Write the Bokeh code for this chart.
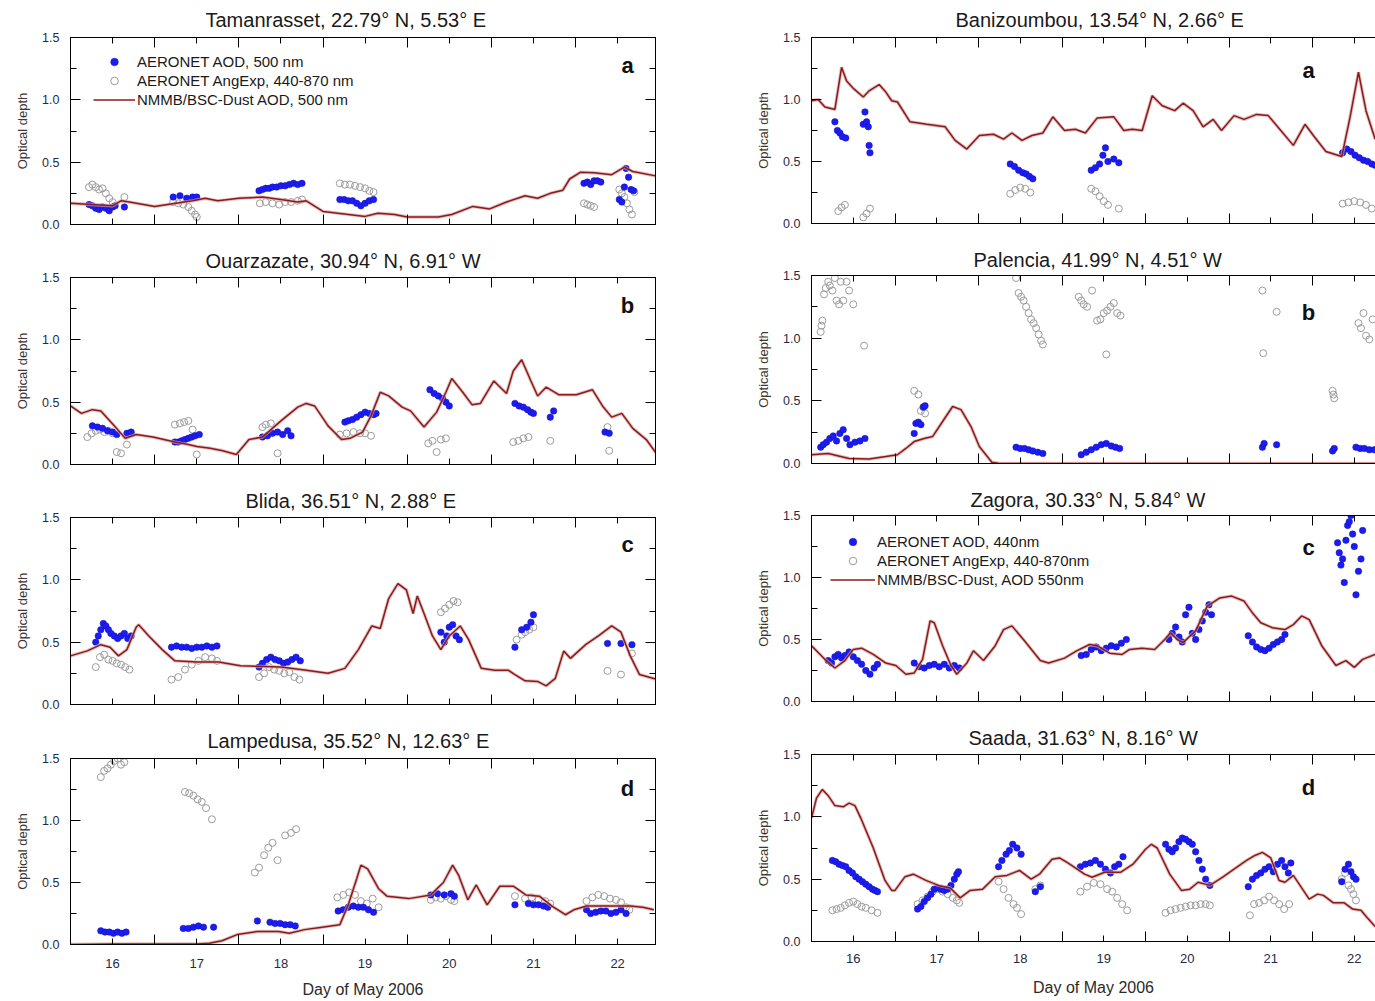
from bokeh.plotting import figure
from bokeh.models import (LinearAxis, FixedTicker, Range1d, Legend, LegendItem,
                          Label, Title, PrintfTickFormatter, CustomJSTickFormatter)
from bokeh.layouts import row, column
from bokeh.embed import file_html
from bokeh.resources import INLINE

# ---------------- tick values ----------------
day_labels = [16, 17, 18, 19, 20, 21, 22]
day_bounds = [15.5, 16.5, 17.5, 18.5, 19.5, 20.5, 21.5, 22.5]
aod_ticks = [0.0, 0.5, 1.0, 1.5]
aod_minor = [0.25, 0.75, 1.25]

# ---------------- Tamanrasset ----------------
tam_model_day = [15.5, 16.0, 16.1, 16.2, 16.5, 16.75, 16.95, 17.1, 17.25, 17.5,
                 17.78, 18.0, 18.2, 18.3, 18.5, 18.75, 19.0, 19.15, 19.35, 19.5,
                 19.87, 20.03, 20.28, 20.48, 20.68, 20.9, 21.05, 21.2, 21.35, 21.43,
                 21.56, 21.72, 21.93, 22.08, 22.18, 22.45]
tam_model_aod = [0.17, 0.15, 0.19, 0.18, 0.145, 0.17, 0.19, 0.21, 0.19, 0.21,
                 0.22, 0.2, 0.18, 0.19, 0.105, 0.085, 0.065, 0.09, 0.08, 0.06,
                 0.06, 0.08, 0.145, 0.125, 0.18, 0.23, 0.21, 0.25, 0.275, 0.365,
                 0.42, 0.415, 0.40, 0.46, 0.425, 0.39]
tam_aod_day = [15.72, 15.76, 15.80, 15.84, 15.88, 15.92, 15.96, 16.00, 16.03, 16.14,
               16.72, 16.80, 16.88, 16.95, 17.00,
               17.74, 17.78, 17.82, 17.86, 17.90, 17.95, 18.00, 18.05, 18.10, 18.15, 18.20, 18.25,
               18.70, 18.75, 18.80, 18.85, 18.90, 18.95, 19.00, 19.05, 19.10,
               21.60, 21.64, 21.68, 21.72, 21.76, 21.80,
               22.02, 22.05, 22.08, 22.10, 22.13, 22.16, 22.19]
tam_aod = [0.16, 0.15, 0.13, 0.12, 0.14, 0.13, 0.11, 0.14, 0.15, 0.14,
           0.22, 0.23, 0.21, 0.22, 0.22,
           0.27, 0.28, 0.29, 0.29, 0.30, 0.30, 0.31, 0.31, 0.32, 0.33, 0.32, 0.33,
           0.20, 0.20, 0.19, 0.19, 0.17, 0.15, 0.17, 0.19, 0.20,
           0.33, 0.34, 0.32, 0.35, 0.35, 0.34,
           0.20, 0.18, 0.30, 0.45, 0.38, 0.28, 0.27]
tam_ang_day = [15.72, 15.76, 15.80, 15.84, 15.88, 15.92, 15.96, 16.00, 16.14,
               16.72, 16.78, 16.84, 16.90, 16.94, 16.98, 17.00,
               17.75, 17.82, 17.90, 17.98, 18.05, 18.12, 18.20, 18.25,
               18.70, 18.76, 18.82, 18.88, 18.94, 19.00, 19.05, 19.10,
               21.60, 21.64, 21.68, 21.72,
               22.02, 22.05, 22.08, 22.11, 22.14, 22.17, 22.20]
tam_ang = [0.30, 0.32, 0.30, 0.28, 0.29, 0.25, 0.21, 0.18, 0.22,
           0.18, 0.17, 0.16, 0.14, 0.11, 0.08, 0.06,
           0.17, 0.18, 0.17, 0.16, 0.18, 0.18, 0.19, 0.20,
           0.33, 0.32, 0.32, 0.31, 0.30, 0.29, 0.27, 0.26,
           0.17, 0.16, 0.15, 0.14,
           0.28, 0.25, 0.22, 0.17, 0.12, 0.08, 0.26]

# ---------------- Ouarzazate ----------------
oua_model_day = [15.5, 15.63, 15.76, 15.86, 16.02, 16.15, 16.28, 16.48, 16.74, 16.9,
                 17.0, 17.16, 17.31, 17.47, 17.62, 17.78, 18.0, 18.2, 18.3, 18.4,
                 18.56, 18.72, 18.82, 18.97, 19.07, 19.18, 19.28, 19.44, 19.54, 19.7,
                 19.85, 19.96, 20.03, 20.16, 20.27, 20.37, 20.53, 20.68, 20.76, 20.86,
                 20.97, 21.05, 21.15, 21.3, 21.51, 21.7, 21.82, 21.93, 22.05, 22.18,
                 22.34, 22.47]
oua_model_aod = [0.47, 0.41, 0.44, 0.43, 0.31, 0.21, 0.24, 0.22, 0.18, 0.16,
                 0.145, 0.13, 0.11, 0.08, 0.2, 0.22, 0.35, 0.46, 0.49, 0.47,
                 0.31, 0.2, 0.21, 0.26, 0.39, 0.58, 0.55, 0.46, 0.43, 0.3,
                 0.42, 0.58, 0.69, 0.58, 0.48, 0.49, 0.67, 0.57, 0.75, 0.84,
                 0.67, 0.55, 0.62, 0.56, 0.56, 0.6, 0.47, 0.38, 0.41, 0.29,
                 0.2, 0.08]
oua_aod_day = [15.76, 15.82, 15.88, 15.94, 16.00, 16.05, 16.17, 16.22,
               16.74, 16.78, 16.82, 16.86, 16.90, 16.94, 16.98, 17.03,
               17.78, 17.84, 17.90, 17.96, 18.02, 18.08, 18.12,
               18.76, 18.80, 18.85, 18.90, 18.95, 19.00, 19.05, 19.10, 19.13,
               19.77, 19.82, 19.87, 19.92, 19.96, 20.00,
               20.78, 20.83, 20.88, 20.93, 20.97, 21.00,
               21.20, 21.24,
               21.85, 21.90]
oua_aod = [0.31, 0.30, 0.29, 0.27, 0.26, 0.24, 0.25, 0.26,
           0.18, 0.18, 0.19, 0.20, 0.21, 0.22, 0.23, 0.24,
           0.22, 0.23, 0.25, 0.26, 0.24, 0.27, 0.23,
           0.34, 0.35, 0.36, 0.38, 0.40, 0.42, 0.41, 0.40, 0.41,
           0.60, 0.57, 0.55, 0.53, 0.50, 0.47,
           0.49, 0.47, 0.46, 0.44, 0.42, 0.41,
           0.38, 0.43,
           0.26, 0.25]
oua_ang_day = [15.70, 15.75, 15.80, 15.85, 15.90, 15.95, 16.00, 16.05, 16.10, 16.17, 16.22,
               16.74, 16.80, 16.85, 16.90, 16.95, 17.00,
               17.78, 17.82, 17.88, 17.96,
               18.70, 18.78, 18.86, 18.94, 19.00, 19.07,
               19.75, 19.80, 19.85, 19.90, 19.96,
               20.76, 20.82, 20.88, 20.94,
               21.20,
               21.88, 21.90]
oua_ang = [0.22, 0.25, 0.27, 0.28, 0.26, 0.27, 0.25, 0.10, 0.09, 0.16, 0.25,
           0.32, 0.33, 0.34, 0.35, 0.28, 0.08,
           0.30, 0.32, 0.33, 0.09,
           0.24, 0.25, 0.26, 0.25, 0.25, 0.23,
           0.17, 0.19, 0.10, 0.20, 0.21,
           0.18, 0.19, 0.21, 0.22,
           0.19,
           0.30, 0.11]

# ---------------- Blida ----------------
bli_model_day = [15.5, 15.7, 15.86, 15.97, 16.07, 16.17, 16.28, 16.31, 16.43, 16.59,
                 16.74, 17.0, 17.26, 17.52, 18.0, 18.3, 18.56, 18.76, 18.92, 19.08,
                 19.18, 19.28, 19.39, 19.49, 19.57, 19.62, 19.7, 19.8, 19.9, 20.0,
                 20.13, 20.23, 20.38, 20.54, 20.7, 20.78, 20.9, 21.05, 21.15, 21.26,
                 21.36, 21.44, 21.62, 21.78, 21.93, 22.04, 22.15, 22.26, 22.42, 22.47]
bli_model_aod = [0.39, 0.43, 0.48, 0.46, 0.39, 0.44, 0.62, 0.64, 0.55, 0.44,
                 0.35, 0.34, 0.34, 0.31, 0.3, 0.275, 0.25, 0.29, 0.44, 0.63,
                 0.61, 0.85, 0.97, 0.92, 0.73, 0.87, 0.73, 0.55, 0.44, 0.55,
                 0.63, 0.52, 0.29, 0.275, 0.275, 0.24, 0.19, 0.185, 0.15, 0.21,
                 0.43, 0.37, 0.48, 0.555, 0.63, 0.58, 0.39, 0.24, 0.21, 0.2]
bli_aod_day = [15.80, 15.83, 15.86, 15.89, 15.92, 15.95, 15.98, 16.02, 16.06, 16.10, 16.14, 16.18, 16.22,
               16.70, 16.76, 16.82, 16.88, 16.94, 17.00, 17.06, 17.12, 17.18, 17.24,
               17.74, 17.78, 17.83, 17.88, 17.93, 17.98, 18.03, 18.08, 18.13, 18.18, 18.23,
               19.90, 19.94, 19.97, 20.00, 20.04, 20.08, 20.12,
               20.78, 20.86, 20.92, 20.97, 21.00,
               21.88, 22.04, 22.17]
bli_aod = [0.50, 0.55, 0.60, 0.65, 0.63, 0.60, 0.57, 0.55, 0.53, 0.55, 0.57, 0.53, 0.55,
           0.46, 0.47, 0.46, 0.46, 0.45, 0.46, 0.46, 0.47, 0.46, 0.47,
           0.30, 0.33, 0.36, 0.38, 0.36, 0.35, 0.33, 0.34, 0.36, 0.38, 0.35,
           0.58, 0.50, 0.55, 0.62, 0.64, 0.55, 0.52,
           0.46, 0.60, 0.62, 0.66, 0.72,
           0.49, 0.49, 0.48]
bli_ang_day = [15.80, 15.85, 15.90, 15.95, 16.00, 16.05, 16.10, 16.15, 16.20,
               16.70, 16.78, 16.86, 16.94, 17.02, 17.10, 17.18, 17.24,
               17.74, 17.80, 17.86, 17.92, 17.98, 18.04, 18.10, 18.16, 18.22,
               19.90, 19.95, 20.00, 20.05, 20.10,
               20.80, 20.86, 20.90, 20.95, 21.00,
               21.88, 22.04, 22.17]
bli_ang = [0.30, 0.38, 0.40, 0.36, 0.35, 0.33, 0.32, 0.30, 0.28,
           0.20, 0.22, 0.28, 0.32, 0.35, 0.38, 0.37, 0.35,
           0.22, 0.25, 0.30, 0.28, 0.27, 0.25, 0.26, 0.22, 0.20,
           0.74, 0.77, 0.80, 0.83, 0.82,
           0.52, 0.56, 0.58, 0.60, 0.62,
           0.27, 0.24, 0.41]

# ---------------- Lampedusa ----------------
lam_model_day = [15.5, 16.0, 16.48, 17.0, 17.15, 17.3, 17.48, 17.72, 17.97, 18.1,
                 18.28, 18.49, 18.7, 18.8, 18.9, 18.95, 19.03, 19.16, 19.26, 19.52,
                 19.78, 19.93, 20.04, 20.11, 20.22, 20.32, 20.45, 20.6, 20.76, 20.91,
                 21.07, 21.22, 21.38, 21.48, 21.63, 21.89, 22.15, 22.3, 22.43]
lam_model_aod = [0.0, 0.005, 0.005, 0.005, 0.01, 0.03, 0.08, 0.105, 0.105, 0.09,
                 0.12, 0.14, 0.16, 0.32, 0.53, 0.64, 0.61, 0.45, 0.39, 0.37,
                 0.4, 0.5, 0.64, 0.56, 0.36, 0.48, 0.32, 0.47, 0.47, 0.4,
                 0.39, 0.31, 0.24, 0.28, 0.31, 0.31, 0.31, 0.3, 0.28]
lam_aod_day = [15.86, 15.91, 15.96, 16.01, 16.06, 16.11, 16.16,
               16.84, 16.90, 16.96, 17.02, 17.08, 17.20,
               17.72, 17.87, 17.93, 17.99, 18.05, 18.11, 18.17,
               18.68, 18.74, 18.80, 18.86, 18.92, 18.98, 19.04, 19.10,
               19.78, 19.86, 19.94, 20.02, 20.06,
               20.78, 20.94, 21.00, 21.06, 21.12, 21.17,
               21.63, 21.68, 21.74, 21.80, 21.86, 21.92, 21.98, 22.04, 22.10]
lam_aod = [0.11, 0.10, 0.10, 0.09, 0.10, 0.09, 0.10,
           0.13, 0.13, 0.14, 0.15, 0.14, 0.14,
           0.19, 0.18, 0.17, 0.17, 0.16, 0.16, 0.15,
           0.27, 0.28, 0.30, 0.31, 0.30, 0.30, 0.28, 0.26,
           0.40, 0.41, 0.40, 0.41, 0.39,
           0.32, 0.33, 0.32, 0.32, 0.31, 0.30,
           0.28, 0.25, 0.26, 0.27, 0.27, 0.25, 0.26, 0.28, 0.25]
lam_ang_day = [15.86, 15.90, 15.94, 15.98, 16.02, 16.06, 16.10, 16.14,
               16.86, 16.91, 16.96, 17.01, 17.06, 17.11, 17.18,
               17.69, 17.74, 17.80, 17.85, 17.90, 17.96, 18.05, 18.12, 18.18,
               18.67, 18.74, 18.81, 18.88, 18.95, 19.02, 19.09, 19.16,
               19.78, 19.84, 19.90, 19.96, 20.02, 20.06,
               20.78, 20.90, 20.98, 21.06, 21.14, 21.20,
               21.63, 21.70, 21.77, 21.84, 21.91, 21.98, 22.04, 22.10, 22.14]
lam_ang = [1.35, 1.40, 1.42, 1.45, 1.48, 1.50, 1.45, 1.47,
           1.23, 1.22, 1.20, 1.17, 1.15, 1.10, 1.01,
           0.58, 0.62, 0.72, 0.78, 0.82, 0.68, 0.88, 0.90, 0.93,
           0.38, 0.40, 0.42, 0.40, 0.35, 0.33, 0.37, 0.30,
           0.36, 0.38, 0.37, 0.39, 0.36, 0.35,
           0.39, 0.37, 0.38, 0.36, 0.35, 0.33,
           0.35, 0.38, 0.40, 0.39, 0.37, 0.36, 0.34, 0.30, 0.28]

# ---------------- Banizoumbou ----------------
ban_model_day = [15.5, 15.58, 15.66, 15.78, 15.86, 15.92, 16.0, 16.12, 16.19, 16.31,
                 16.39, 16.46, 16.53, 16.68, 16.88, 17.1, 17.22, 17.36, 17.51, 17.68,
                 17.8, 17.9, 18.02, 18.14, 18.27, 18.39, 18.53, 18.66, 18.78, 18.92,
                 19.12, 19.24, 19.34, 19.46, 19.58, 19.7, 19.85, 19.95, 20.07, 20.19,
                 20.31, 20.41, 20.56, 20.68, 20.83, 20.97, 21.12, 21.27, 21.41, 21.51,
                 21.66, 21.85, 21.95, 22.05, 22.14, 22.25]
ban_model_aod = [0.99, 1.0, 0.94, 0.92, 1.26, 1.15, 1.09, 1.02, 1.07, 1.12,
                 1.06, 0.99, 0.98, 0.82, 0.8, 0.78, 0.67, 0.6, 0.71, 0.72,
                 0.68, 0.73, 0.67, 0.71, 0.73, 0.86, 0.75, 0.76, 0.73, 0.85,
                 0.86, 0.75, 0.76, 0.75, 1.03, 0.95, 0.91, 0.97, 0.91, 0.78,
                 0.84, 0.75, 0.87, 0.84, 0.88, 0.87, 0.75, 0.63, 0.8, 0.71,
                 0.58, 0.54, 0.86, 1.22, 0.91, 0.68]
ban_aod_day = [15.78, 15.81, 15.84, 15.87, 15.91,
               16.12, 16.14, 16.16, 16.18, 16.19, 16.20,
               17.88, 17.93, 17.98, 18.03, 18.07, 18.11, 18.15,
               18.85, 18.90, 18.95, 18.99, 19.02, 19.05, 19.12, 19.18,
               21.86, 21.91, 21.96, 22.01, 22.06, 22.11, 22.16, 22.21, 22.25]
ban_aod = [0.82, 0.75, 0.73, 0.70, 0.69,
           0.80, 0.90, 0.82, 0.78, 0.63, 0.57,
           0.48, 0.46, 0.43, 0.41, 0.40, 0.38, 0.36,
           0.43, 0.45, 0.48, 0.55, 0.61, 0.50, 0.52, 0.49,
           0.57, 0.60, 0.58, 0.55, 0.53, 0.51, 0.50, 0.48, 0.47]
ban_ang_day = [15.82, 15.86, 15.90,
               16.12, 16.16, 16.20,
               17.88, 17.94, 18.00, 18.06, 18.12,
               18.85, 18.90, 18.95, 19.00, 19.05, 19.18,
               21.86, 21.93, 22.00, 22.07, 22.14, 22.21]
ban_ang = [0.10, 0.13, 0.15,
           0.05, 0.08, 0.12,
           0.24, 0.27, 0.29, 0.28, 0.25,
           0.28, 0.26, 0.22, 0.18, 0.15, 0.12,
           0.16, 0.17, 0.18, 0.17, 0.15, 0.12]

# ---------------- Palencia ----------------
pal_model_day = [15.5, 15.7, 15.95, 16.19, 16.39, 16.53, 16.63, 16.73, 16.85, 16.95,
                 17.07, 17.19, 17.29, 17.41, 17.51, 17.66, 17.75, 22.25]
pal_model_aod = [0.07, 0.08, 0.04, 0.035, 0.055, 0.07, 0.12, 0.175, 0.2, 0.215,
                 0.335, 0.455, 0.43, 0.295, 0.135, 0.01, 0.0, 0.0]
pal_aod_day = [15.61, 15.64, 15.68, 15.72, 15.76, 15.80, 15.84, 15.88, 15.92, 15.96, 16.02, 16.08, 16.14,
               16.73, 16.75, 16.78, 16.81, 16.84, 16.86,
               17.95, 18.00, 18.05, 18.10, 18.15, 18.21, 18.27,
               18.73, 18.79, 18.85, 18.91, 18.97, 19.03, 19.09, 19.14, 19.19,
               20.90, 20.92, 21.07,
               21.74, 21.76,
               22.02, 22.07, 22.12, 22.18, 22.24]
pal_aod = [0.13, 0.15, 0.17, 0.20, 0.22, 0.18, 0.24, 0.27, 0.20, 0.15, 0.17, 0.18, 0.20,
           0.24, 0.32, 0.33, 0.31, 0.45, 0.46,
           0.13, 0.12, 0.12, 0.11, 0.10, 0.09, 0.08,
           0.07, 0.09, 0.11, 0.13, 0.15, 0.16, 0.14, 0.13, 0.12,
           0.13, 0.16, 0.15,
           0.10, 0.12,
           0.13, 0.12, 0.12, 0.11, 0.11]
pal_ang_day = [15.61, 15.62, 15.63, 15.65, 15.67, 15.70, 15.72, 15.75, 15.78, 15.80, 15.83, 15.85,
               15.88, 15.92, 15.95, 16.00, 16.13,
               16.73, 16.78, 16.81, 16.84, 16.86,
               17.95, 17.98, 18.01, 18.04, 18.07, 18.10, 18.13, 18.16, 18.19, 18.22, 18.25, 18.27,
               18.70, 18.73, 18.76, 18.80, 18.86, 18.92, 18.96, 19.00, 19.04, 19.08, 19.12, 19.16,
               19.20, 19.03,
               20.90, 20.91, 21.07,
               21.74, 21.75, 21.76,
               22.05, 22.08, 22.11, 22.14, 22.18, 22.22]
pal_ang = [1.05, 1.10, 1.14, 1.35, 1.40, 1.45, 1.42, 1.38, 1.48, 1.30, 1.27, 1.45,
           1.30, 1.45, 1.38, 1.27, 0.94,
           0.58, 0.55, 0.42, 0.45, 0.40,
           1.48, 1.36, 1.33, 1.30, 1.25, 1.20, 1.15, 1.12, 1.08, 1.03, 0.98, 0.95,
           1.33, 1.30, 1.27, 1.25, 1.38, 1.14, 1.15, 1.20, 1.22, 1.25, 1.28, 1.20,
           1.18, 0.87,
           1.38, 0.88, 1.21,
           0.58, 0.55, 0.52,
           1.12, 1.08, 1.20, 1.02, 0.99, 1.15]

# ---------------- Zagora ----------------
zag_model_day = [15.5, 15.66, 15.78, 15.9, 16.0, 16.1, 16.24, 16.39, 16.51, 16.63,
                 16.73, 16.83, 16.92, 16.97, 17.07, 17.17, 17.24, 17.36, 17.44, 17.56,
                 17.7, 17.8, 17.9, 18.05, 18.24, 18.34, 18.53, 18.68, 18.83, 18.92,
                 19.07, 19.22, 19.31, 19.46, 19.61, 19.73, 19.8, 19.88, 19.95, 20.1,
                 20.24, 20.39, 20.53, 20.68, 20.78, 20.88, 21.02, 21.17, 21.27, 21.37,
                 21.46, 21.61, 21.78, 21.9, 22.0, 22.1, 22.25]
zag_model_aod = [0.45, 0.34, 0.27, 0.33, 0.42, 0.43, 0.38, 0.31, 0.29, 0.22,
                 0.23, 0.34, 0.65, 0.635, 0.45, 0.29, 0.22, 0.31, 0.41, 0.33,
                 0.45, 0.58, 0.61, 0.49, 0.33, 0.31, 0.35, 0.41, 0.46, 0.45,
                 0.39, 0.38, 0.42, 0.43, 0.42, 0.5, 0.555, 0.5, 0.475, 0.57,
                 0.77, 0.835, 0.85, 0.81, 0.715, 0.635, 0.595, 0.58, 0.62, 0.69,
                 0.66, 0.45, 0.29, 0.33, 0.275, 0.34, 0.38]
zag_aod_day = [15.70, 15.74, 15.78, 15.82, 15.86, 15.90, 15.95, 16.00, 16.05, 16.10, 16.15, 16.20, 16.25, 16.29,
               16.73, 16.79, 16.85, 16.91, 16.97, 17.03, 17.09, 17.15, 17.21, 17.27,
               18.73, 18.79, 18.85, 18.91, 18.97, 19.03, 19.09, 19.15, 19.21, 19.27,
               19.78, 19.82, 19.86, 19.90, 19.94, 19.98, 20.02, 20.06, 20.10, 20.14, 20.18, 20.22, 20.26, 20.29,
               20.73, 20.78, 20.83, 20.88, 20.93, 20.98, 21.03, 21.08, 21.13, 21.17,
               21.80, 21.82, 21.84, 21.86, 21.88, 21.90, 21.92, 21.94, 21.96, 21.98, 22.00, 22.02, 22.05, 22.08, 22.10]
zag_aod = [0.33, 0.31, 0.36, 0.38, 0.35, 0.37, 0.40, 0.36, 0.33, 0.30, 0.25, 0.22, 0.27, 0.30,
           0.31, 0.28, 0.27, 0.29, 0.30, 0.28, 0.30, 0.27, 0.29, 0.27,
           0.37, 0.38, 0.42, 0.44, 0.41, 0.43, 0.45, 0.44, 0.47, 0.50,
           0.50, 0.55, 0.60, 0.52, 0.48, 0.70, 0.76, 0.55, 0.50, 0.58, 0.65, 0.72, 0.78, 0.70,
           0.53, 0.48, 0.44, 0.42, 0.41, 0.43, 0.46, 0.48, 0.50, 0.54,
           1.28, 1.20, 1.10, 1.15, 0.96, 1.30, 1.42, 1.45, 1.50, 1.35, 1.25, 0.86, 1.05, 1.15, 1.38]
zag_ang_day = []
zag_ang = []

# ---------------- Saada ----------------
saa_model_day = [15.5, 15.56, 15.63, 15.7, 15.78, 15.88, 15.95, 16.02, 16.09, 16.24,
                 16.38, 16.46, 16.5, 16.62, 16.72, 16.87, 17.02, 17.16, 17.28, 17.4,
                 17.55, 17.7, 17.84, 17.99, 18.13, 18.23, 18.38, 18.47, 18.57, 18.77,
                 18.86, 19.01, 19.2, 19.35, 19.5, 19.57, 19.64, 19.79, 19.93, 20.03,
                 20.13, 20.27, 20.42, 20.56, 20.71, 20.81, 20.9, 21.0, 21.1, 21.17,
                 21.27, 21.39, 21.46, 21.56, 21.63, 21.75, 21.88, 21.98, 22.08, 22.15,
                 22.25]
saa_model_aod = [0.99, 1.15, 1.22, 1.17, 1.09, 1.08, 1.11, 1.09, 0.99, 0.75,
                 0.49, 0.41, 0.41, 0.52, 0.54, 0.49, 0.45, 0.43, 0.35, 0.41,
                 0.42, 0.52, 0.53, 0.57, 0.5, 0.54, 0.66, 0.67, 0.63, 0.54,
                 0.515, 0.555, 0.555, 0.62, 0.74, 0.78, 0.75, 0.54, 0.41, 0.42,
                 0.475, 0.45, 0.515, 0.58, 0.65, 0.69, 0.715, 0.67, 0.49, 0.475,
                 0.53, 0.41, 0.34, 0.38, 0.37, 0.31, 0.31, 0.26, 0.25, 0.195,
                 0.12]
saa_aod_day = [15.75, 15.79, 15.83, 15.87, 15.91, 15.95, 15.99, 16.03, 16.07, 16.11, 16.15, 16.19, 16.23, 16.26, 16.29,
               16.77, 16.81, 16.85, 16.89, 16.93, 16.97, 17.01, 17.05, 17.09, 17.13, 17.17, 17.21, 17.24, 17.26,
               17.74, 17.78, 17.83, 17.87, 17.91, 17.96, 18.01,
               18.18, 18.24,
               18.72, 18.78, 18.84, 18.90, 18.96, 19.02, 19.08, 19.13, 19.18, 19.23,
               19.74, 19.78, 19.82, 19.86, 19.90, 19.94, 19.98, 20.02, 20.06, 20.10, 20.14, 20.18, 20.22, 20.27,
               20.73, 20.78, 20.83, 20.88, 20.93, 20.98, 21.03, 21.08, 21.13, 21.17, 21.21, 21.24,
               21.85, 21.89, 21.93, 21.96, 21.99, 22.02]
saa_aod = [0.65, 0.64, 0.62, 0.61, 0.60, 0.57, 0.55, 0.52, 0.50, 0.48, 0.46, 0.44, 0.42, 0.41, 0.40,
           0.26, 0.28, 0.32, 0.35, 0.38, 0.42, 0.43, 0.42, 0.41, 0.42, 0.45, 0.50, 0.54, 0.56,
           0.60, 0.65, 0.70, 0.73, 0.78, 0.75, 0.70,
           0.40, 0.44,
           0.60, 0.62, 0.63, 0.65, 0.62, 0.58, 0.55, 0.60, 0.62, 0.68,
           0.78, 0.74, 0.72, 0.75, 0.80, 0.83, 0.82, 0.80, 0.78, 0.72, 0.65, 0.58, 0.50, 0.45,
           0.44, 0.50, 0.53, 0.55, 0.58, 0.60, 0.56, 0.62, 0.65, 0.60, 0.55, 0.63,
           0.48, 0.58, 0.62, 0.56, 0.52, 0.50]
saa_ang_day = [15.75, 15.80, 15.85, 15.90, 15.95, 16.00, 16.05, 16.10, 16.15, 16.22, 16.29,
               16.77, 16.83, 16.89, 16.95, 17.01, 17.07, 17.13, 17.19, 17.24, 17.27,
               17.74, 17.80, 17.86, 17.92, 17.96, 18.01,
               18.18, 18.24,
               18.72, 18.80, 18.88, 18.96, 19.04, 19.10, 19.16, 19.22, 19.28,
               19.74, 19.80, 19.86, 19.92, 19.98, 20.04, 20.10, 20.16, 20.22, 20.27,
               20.75, 20.80, 20.86, 20.92, 20.98, 21.04, 21.10, 21.16, 21.22,
               21.85, 21.89, 21.93, 21.96, 21.99, 22.02]
saa_ang = [0.25, 0.26, 0.27, 0.29, 0.31, 0.32, 0.30, 0.28, 0.27, 0.25, 0.23,
           0.30, 0.33, 0.36, 0.40, 0.42, 0.40, 0.38, 0.35, 0.33, 0.31,
           0.48, 0.42, 0.35, 0.30, 0.27, 0.22,
           0.42, 0.45,
           0.40, 0.44, 0.47, 0.46, 0.42, 0.40, 0.35, 0.30, 0.25,
           0.23, 0.25, 0.26, 0.27, 0.28, 0.29, 0.29, 0.30, 0.30, 0.29,
           0.21, 0.30, 0.31, 0.33, 0.36, 0.33, 0.30, 0.26, 0.30,
           0.50, 0.55, 0.45, 0.42, 0.38, 0.33]

# ---------------- styling ----------------
FONT = "Liberation Sans"
RED = "#8b1a1a"
HALO = "#d9a3a3"
BLUE = "#1c1cf2"
GRAY = "#9c9c9c"
TICKC = "#1f2b47"
MAJ = 10
MIN = 6


def tick_axis(ticker, labels=False):
    ax = LinearAxis(ticker=ticker)
    ax.major_tick_in = MAJ
    ax.major_tick_out = 0
    ax.minor_tick_in = MIN
    ax.minor_tick_out = 0
    ax.axis_line_color = "black"
    ax.major_tick_line_color = "black"
    ax.minor_tick_line_color = "black"
    if not labels:
        ax.formatter = CustomJSTickFormatter(code="return ''")
        ax.major_label_text_font_size = "0px"
        ax.major_label_standoff = 0
    else:
        ax.major_label_text_font = FONT
        ax.major_label_text_color = TICKC
    return ax


def make_panel(name, letter, side, fig_h, b_top, b_bot,
               md, ma, ad, av, gd, gv, last=False, title_left=135, title_standoff=13,
               letter_dy=-28, legend_labels=None, legend_loc=None, legend_glyph_w=42):
    if side == "L":
        w, bl, br, x_end, letter_dx = 740, 70, 85, 22.45, -28
    else:
        w, bl, br, x_end, letter_dx = 635, 71, 0, 22.254, -67
    p = figure(width=w, height=fig_h, x_range=Range1d(15.5, x_end), y_range=Range1d(0, 1.5),
               output_backend="svg", toolbar_location=None, tools="", title=None,
               x_axis_location=None, y_axis_location=None,
               min_border_left=bl, min_border_right=br,
               min_border_top=b_top, min_border_bottom=b_bot)
    p.grid.visible = False
    p.outline_line_color = "black" if side == "L" else None
    p.outline_line_width = 1

    # half-day boundaries carry the long ticks, day centres the short ones
    xt = FixedTicker(ticks=day_bounds, minor_ticks=day_labels)
    yt = FixedTicker(ticks=aod_ticks, minor_ticks=aod_minor)

    p.add_layout(tick_axis(xt), "below")
    if last:
        la = LinearAxis(ticker=FixedTicker(ticks=day_labels, minor_ticks=[]))
        la.major_tick_in = 0
        la.major_tick_out = 0
        la.minor_tick_in = 0
        la.minor_tick_out = 0
        la.axis_line_color = None
        la.major_label_text_font = FONT
        la.major_label_text_color = TICKC
        la.major_label_text_font_size = "13px"
        la.major_label_standoff = 14 if side == "L" else 12
        la.axis_label = "Day of May 2006"
        la.axis_label_text_font = FONT
        la.axis_label_text_font_size = "16px"
        la.axis_label_text_font_style = "normal"
        la.axis_label_text_color = "#2a2a2a"
        la.axis_label_standoff = 10 if side == "L" else 13
        p.add_layout(la, "below")

    ya = tick_axis(yt, labels=True)
    ya.formatter = PrintfTickFormatter(format="%.1f")
    ya.major_label_text_font_size = "12.5px"
    ya.major_label_standoff = 11
    ya.axis_label = "Optical depth"
    ya.axis_label_text_font = FONT
    ya.axis_label_text_font_size = "13px"
    ya.axis_label_text_font_style = "normal"
    ya.axis_label_text_color = "#3b3630"
    ya.axis_label_standoff = 9
    p.add_layout(ya, "left")

    p.add_layout(tick_axis(xt), "above")
    if side == "L":
        p.add_layout(tick_axis(yt), "right")

    p.add_layout(Title(text=name, align="left", offset=title_left, standoff=title_standoff,
                       text_font=FONT, text_font_size="20px", text_font_style="normal",
                       text_color="#1a1a1a"), "above")

    if len(gd) == 0:
        gd, gv = [float("nan")], [float("nan")]
    g = p.scatter(gd, gv, marker="circle", size=7, fill_color=None,
                  line_color=GRAY, line_width=1)
    b = p.scatter(ad, av, marker="circle", size=6.5, fill_color=BLUE,
                  line_color="#1010b8", line_width=0.5)
    p.line(md, ma, line_color=HALO, line_width=3.4, line_alpha=0.7)
    ln = p.line(md, ma, line_color=RED, line_width=1.5)

    p.add_layout(Label(x=x_end, y=1.5, x_offset=letter_dx, y_offset=letter_dy, text=letter,
                       text_align="center", text_baseline="middle", text_font=FONT,
                       text_font_size="22px", text_font_style="bold", text_color="#111111"))

    if legend_labels is not None:
        leg = Legend(items=[LegendItem(label=legend_labels[0], renderers=[b]),
                            LegendItem(label=legend_labels[1], renderers=[g]),
                            LegendItem(label=legend_labels[2], renderers=[ln])],
                     location=legend_loc, glyph_width=legend_glyph_w, glyph_height=19,
                     label_height=19, label_standoff=2, padding=0, margin=0, spacing=0,
                     border_line_color=None, background_fill_alpha=0,
                     label_text_font=FONT, label_text_font_size="15px",
                     label_text_color="#1a1a1a")
        p.add_layout(leg)
    return p


p1 = make_panel("Tamanrasset, 22.79° N, 5.53° E", "a", "L", 240, 37, 16,
                tam_model_day, tam_model_aod, tam_aod_day, tam_aod, tam_ang_day, tam_ang,
                title_left=135, title_standoff=13,
                legend_labels=["AERONET AOD, 500 nm", "AERONET AngExp, 440-870 nm",
                               "NMMB/BSC-Dust AOD, 500 nm"],
                legend_loc=(23, 115), legend_glyph_w=42)
p2 = make_panel("Ouarzazate, 30.94° N, 6.91° W", "b", "L", 240, 37, 16,
                oua_model_day, oua_model_aod, oua_aod_day, oua_aod, oua_ang_day, oua_ang,
                title_left=135, title_standoff=12)
p3 = make_panel("Blida, 36.51° N, 2.88° E", "c", "L", 240, 37, 16,
                bli_model_day, bli_model_aod, bli_aod_day, bli_aod, bli_ang_day, bli_ang,
                title_left=175, title_standoff=12, letter_dy=-27)
p4 = make_panel("Lampedusa, 35.52° N, 12.63° E", "d", "L", 280, 38, 54,
                lam_model_day, lam_model_aod, lam_aod_day, lam_aod, lam_ang_day, lam_ang,
                last=True, title_left=137, title_standoff=13, letter_dy=-30)

q1 = make_panel("Banizoumbou, 13.54° N, 2.66° E", "a", "R", 238, 37, 15,
                ban_model_day, ban_model_aod, ban_aod_day, ban_aod, ban_ang_day, ban_ang,
                title_left=144, title_standoff=13, letter_dy=-33)
q2 = make_panel("Palencia, 41.99° N, 4.51° W", "b", "R", 240, 37, 15,
                pal_model_day, pal_model_aod, pal_aod_day, pal_aod, pal_ang_day, pal_ang,
                title_left=162, title_standoff=10, letter_dy=-37)
q3 = make_panel("Zagora, 30.33° N, 5.84° W", "c", "R", 239, 37, 16,
                zag_model_day, zag_model_aod, zag_aod_day, zag_aod, zag_ang_day, zag_ang,
                title_left=159, title_standoff=10, letter_dy=-32,
                legend_labels=["AERONET AOD, 440nm", "AERONET AngExp, 440-870nm",
                               "NMMB/BSC-Dust, AOD 550nm"],
                legend_loc=(19, 112), legend_glyph_w=45)
q4 = make_panel("Saada, 31.63° N, 8.16° W", "d", "R", 283, 37, 59,
                saa_model_day, saa_model_aod, saa_aod_day, saa_aod, saa_ang_day, saa_ang,
                last=True, title_left=157, title_standoff=11, letter_dy=-33)

layout = row(column(p1, p2, p3, p4, spacing=0), column(q1, q2, q3, q4, spacing=0), spacing=0)

with open("out.html", "w") as f:
    f.write(file_html(layout, INLINE))
